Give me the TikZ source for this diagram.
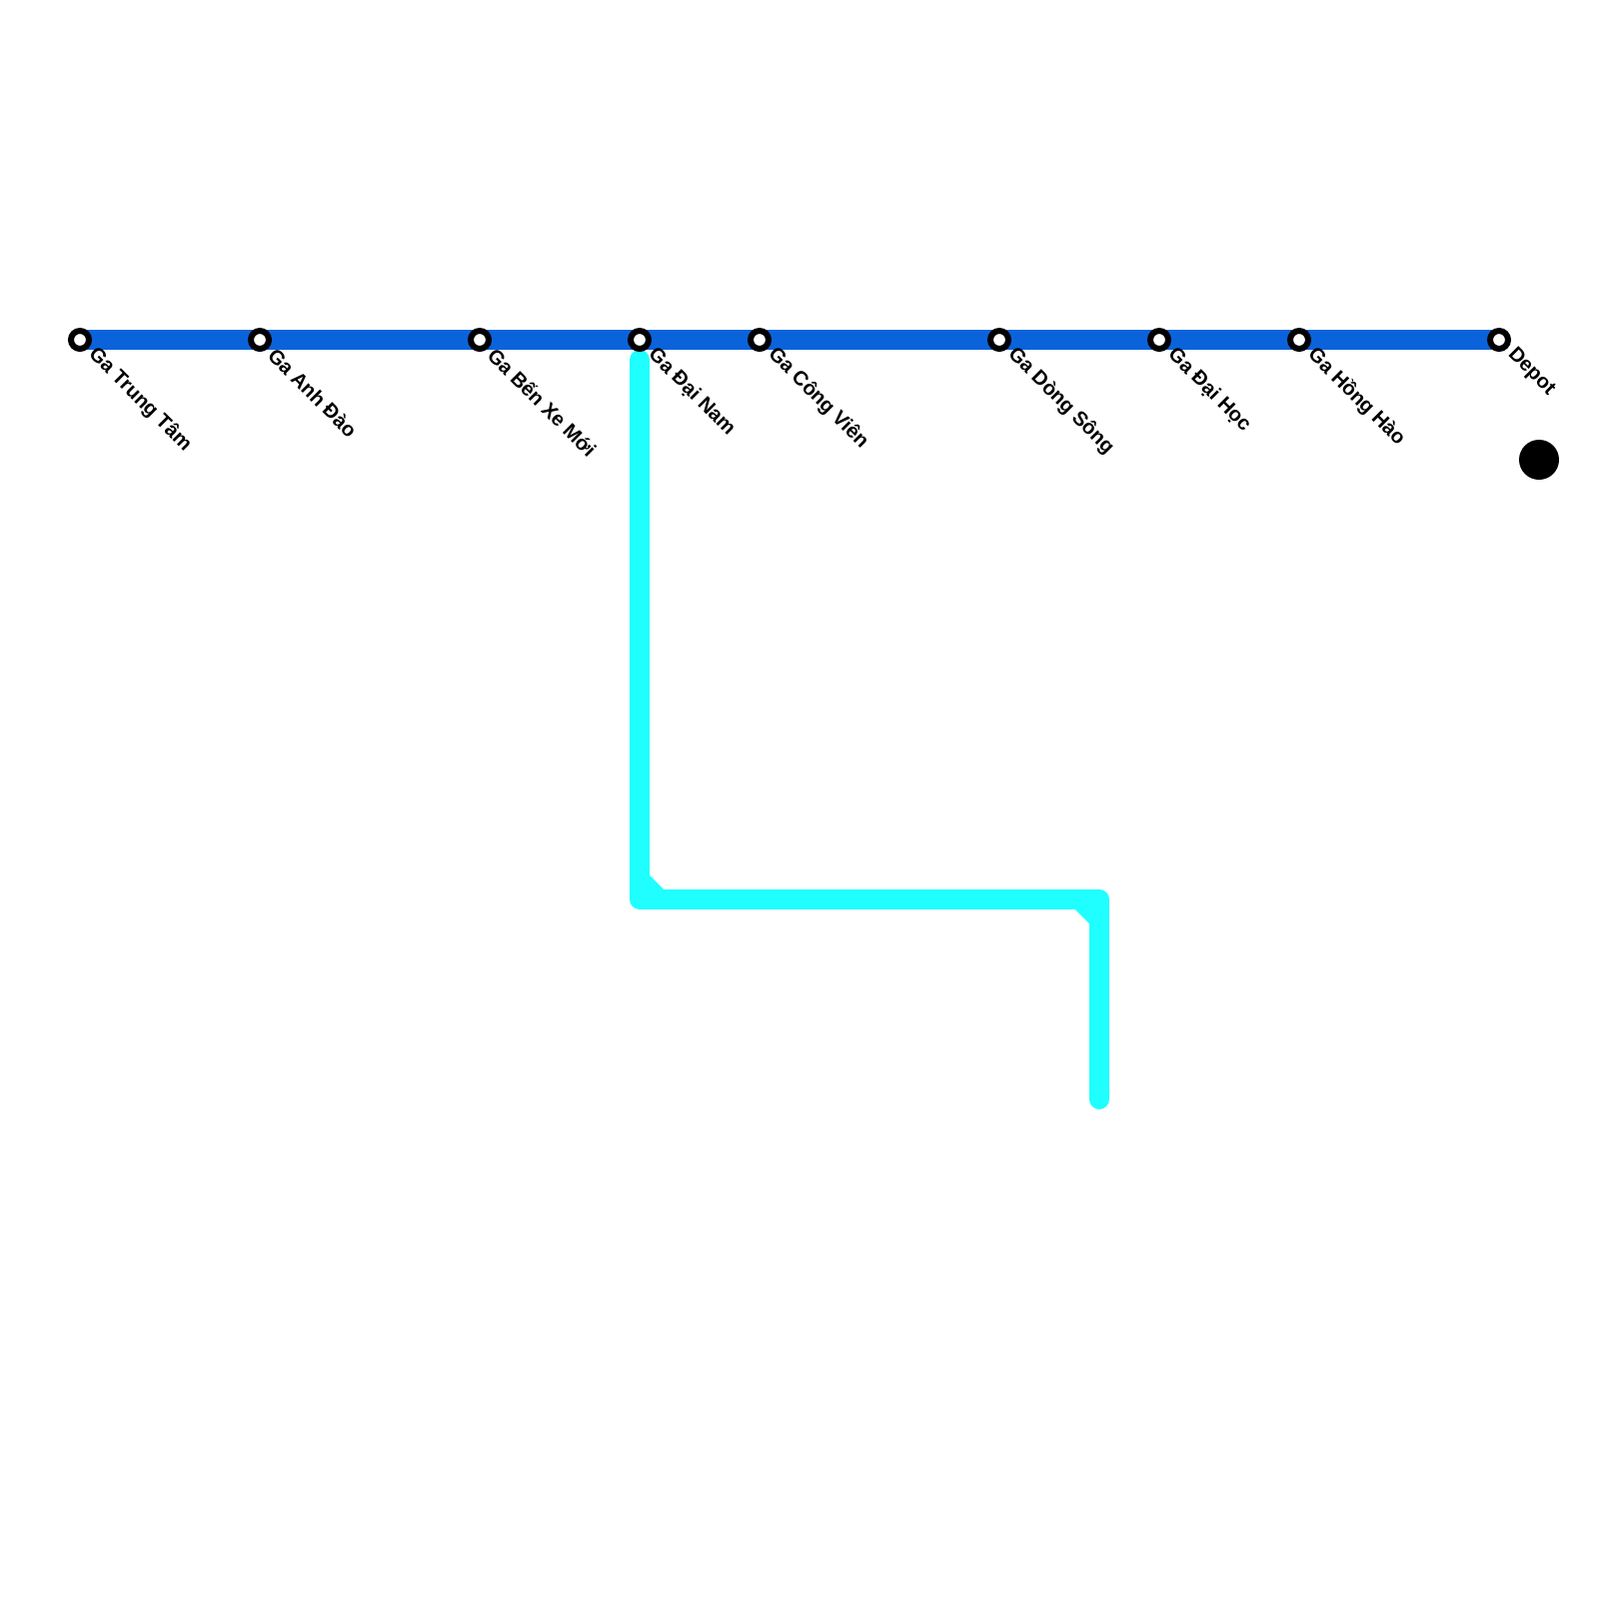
\documentclass[tikz,border=0pt]{standalone}
\usepackage{fontspec}
\setmainfont{Liberation Sans}
\definecolor{lineblue}{HTML}{0B63DC}
\definecolor{linecyan}{HTML}{1FFFFF}
\tikzset{
    stn/.style={circle, draw=black, fill=white, line width=0.6mm, minimum size=1.8mm, inner sep=0pt},
    stnlabel/.style={anchor=west, rotate=-45, inner sep=0pt, font=\fontsize{5.75}{6}\selectfont\bfseries},
    mainline/.style={lineblue, line width=2mm},
    branch/.style={linecyan, line width=2mm, line cap=round, line join=round}
}
\begin{document}
\begin{tikzpicture}[x=0.1mm, y=-0.1mm]
    \useasboundingbox (0,0) rectangle (1600,1600);
    % Turning points of the branch
    \coordinate (b0) at (640,360);
    \coordinate (b1) at (640,900);
    \coordinate (b2) at (1100,900);
    \coordinate (b3) at (1100,1100);
    \coordinate (f1) at (640,880);
    \coordinate (f2) at (660,900);
    \coordinate (f3) at (1080,900);
    \coordinate (f4) at (1100,920);
    % Stations
    \foreach \x/\n in {80/trungtam, 260/anhdao, 480/benxe, 640/dainam, 760/congvien, 1000/dongsong, 1160/daihoc, 1300/honghao, 1500/depot} {
            \coordinate (\n) at (\x,340);
        }
    % Lines
    \draw[mainline] (trungtam) -- (depot);
    \draw[branch] (b0) -- (b1) -- (b2) -- (b3);
    \draw[branch] (f1) -- (f2);
    \draw[branch] (f3) -- (f4);
    % Station marks and names
    \foreach \n/\l in {trungtam/Ga Trung Tâm, anhdao/Ga Anh Đào, benxe/Ga Bến Xe Mới, dainam/Ga Đại Nam, congvien/Ga Công Viên, dongsong/Ga Dòng Sông, daihoc/Ga Đại Học, honghao/Ga Hồng Hào, depot/Depot} {
            \node[stn] (\n-mark) at (\n) {};
            \node[stnlabel] (\n-name) at ([shift={(11.5,11.5)}]\n) {\l};
        }
    \node[circle, fill=black, minimum size=4mm, inner sep=0pt] (depotdot) at (1540,460) {};
\end{tikzpicture}
\end{document}
